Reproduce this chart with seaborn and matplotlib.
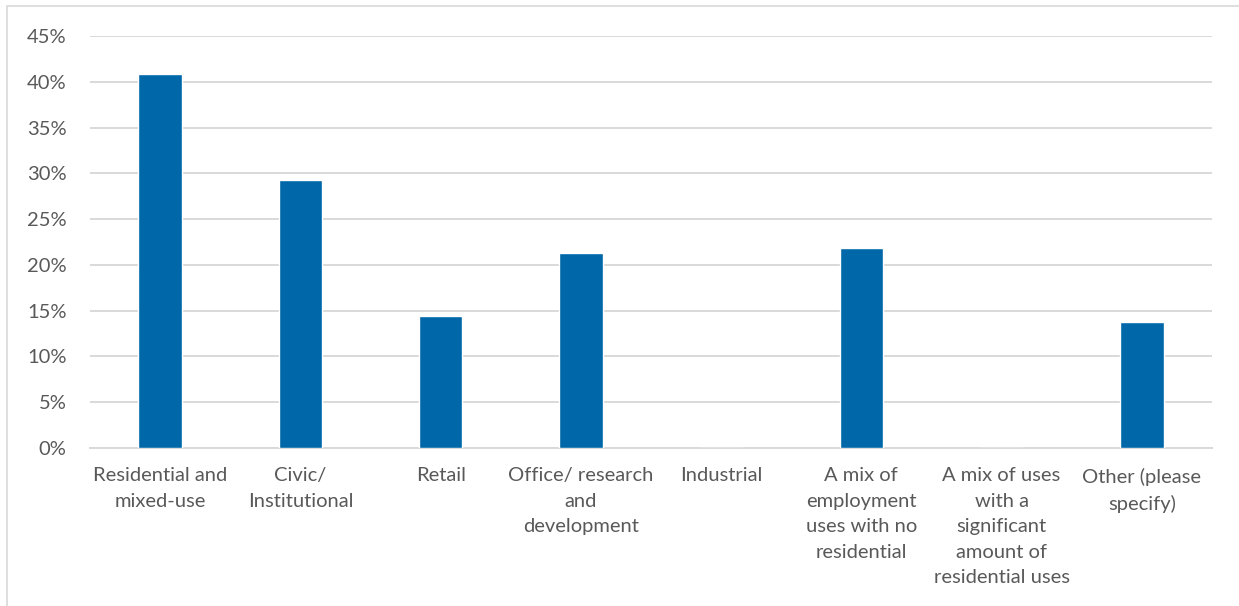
import matplotlib
matplotlib.use("Agg")
import matplotlib.pyplot as plt
import seaborn as sns
import pandas as pd
from matplotlib.patches import Rectangle
from matplotlib.ticker import FuncFormatter, MultipleLocator

categories = [
    "Residential and\nmixed-use",
    "Civic/\nInstitutional",
    "Retail",
    "Office/ research\nand\ndevelopment",
    "Industrial",
    "A mix of\nemployment\nuses with no\nresidential",
    "A mix of uses\nwith a\nsignificant\namount of\nresidential uses",
    "Other (please\nspecify)",
]
shares = [40.8, 29.3, 14.4, 21.3, 0.0, 21.8, 0.0, 13.8]

sns.set_style("white")
plt.rcParams["font.family"] = ["Lato", "DejaVu Sans"]

df = pd.DataFrame({"use": categories, "share": shares})

fig = plt.figure(figsize=(12.39, 6.06), dpi=100)
ax = fig.add_axes([90 / 1239, 1 - 448 / 606, (1212 - 90) / 1239, (448 - 36) / 606])

sns.barplot(data=df, x="use", y="share", color="#0067A8", saturation=1,
            width=0.31, ax=ax, zorder=3)

ax.set_ylim(0, 45)
ax.yaxis.set_major_locator(MultipleLocator(5))
ax.yaxis.set_major_formatter(FuncFormatter(lambda v, _: f"{v:.0f}%"))
ax.grid(axis="y", color="#d9d9d9", linewidth=1.4, zorder=0)
ax.set_axisbelow(True)
for side in ["top", "right", "left"]:
    ax.spines[side].set_visible(False)
ax.spines["bottom"].set_color("#d9d9d9")
ax.spines["bottom"].set_linewidth(1.4)
ax.set_xlabel("")
ax.set_ylabel("")
ax.set_xticks(range(len(categories)))
ax.set_xticklabels(categories, linespacing=1.6, ha="center")
ax.tick_params(axis="y", length=0, pad=17, labelsize=14.5, labelcolor="#595959")
ax.tick_params(axis="x", length=0, pad=14, labelsize=14.5, labelcolor="#595959")

fig.patches.append(Rectangle((7 / 1239, -0.05), 1.2, 1.0 - 6 / 606 + 0.05,
                             transform=fig.transFigure, fill=False,
                             edgecolor="#d9d9d9", linewidth=1.2))

fig.savefig("out.png", dpi=100, facecolor="white")
